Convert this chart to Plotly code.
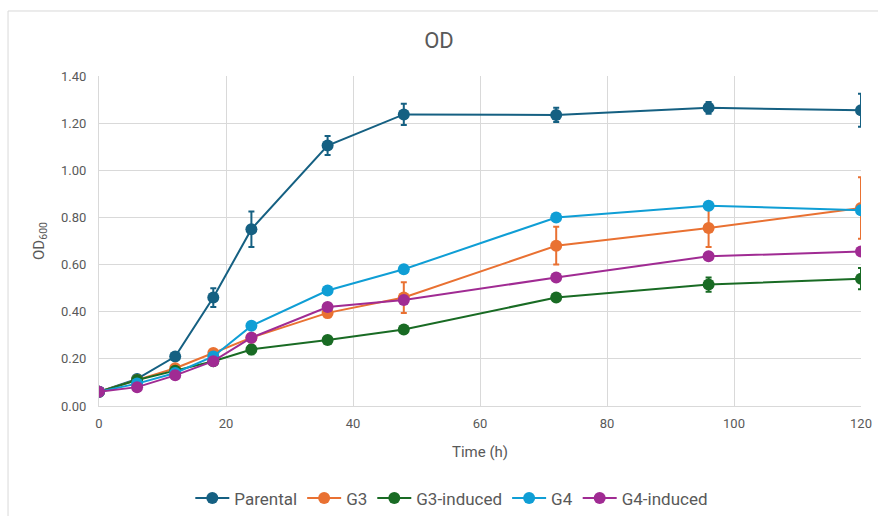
import plotly.graph_objects as go

time_h = [0, 6, 12, 18, 24, 36, 48, 72, 96, 120]

parental = [0.06, 0.115, 0.21, 0.46, 0.75, 1.105, 1.237, 1.235, 1.265, 1.255]
parental_err = [0.005, 0.005, 0.01, 0.04, 0.075, 0.04, 0.045, 0.03, 0.025, 0.07]

g3 = [0.06, 0.11, 0.16, 0.225, 0.29, 0.395, 0.46, 0.68, 0.755, 0.84]
g3_err = [0.005, 0.005, 0.01, 0.01, 0.01, 0.02, 0.065, 0.08, 0.08, 0.13]

g3_induced = [0.06, 0.11, 0.15, 0.19, 0.24, 0.28, 0.325, 0.46, 0.515, 0.54]
g3_induced_err = [0.005, 0.005, 0.005, 0.01, 0.02, 0.01, 0.01, 0.01, 0.03, 0.045]

g4 = [0.06, 0.095, 0.14, 0.21, 0.34, 0.49, 0.58, 0.80, 0.85, 0.83]
g4_err = [0.005, 0.005, 0.005, 0.01, 0.01, 0.01, 0.01, 0.01, 0.01, 0.01]

g4_induced = [0.06, 0.08, 0.13, 0.19, 0.29, 0.42, 0.45, 0.545, 0.635, 0.655]
g4_induced_err = [0.005, 0.005, 0.005, 0.01, 0.01, 0.01, 0.01, 0.01, 0.01, 0.01]

series = [
    ("Parental", parental, parental_err, "#156082"),
    ("G3", g3, g3_err, "#E97132"),
    ("G3-induced", g3_induced, g3_induced_err, "#196B24"),
    ("G4", g4, g4_err, "#0F9ED5"),
    ("G4-induced", g4_induced, g4_induced_err, "#A02B93"),
]

fig = go.Figure()
for name, vals, errs, col in series:
    fig.add_trace(go.Scatter(
        x=time_h, y=vals, name=name, mode="lines+markers",
        line=dict(color=col, width=2),
        marker=dict(color=col, size=12),
        error_y=dict(type="data", array=errs, visible=True, color=col, thickness=2, width=3),
    ))

font_col = "#595959"
fig.update_layout(
    width=878, height=516,
    margin=dict(l=99, r=17, t=76, b=110, autoexpand=False),
    paper_bgcolor="white", plot_bgcolor="white",
    font=dict(family="Roboto, Arial, sans-serif", color=font_col, size=13),
    title=dict(text="OD", x=0.5, xanchor="center", y=0.922, yanchor="middle",
               font=dict(size=22, color=font_col)),
    xaxis=dict(range=[0, 120], dtick=20, tick0=0, showgrid=True, gridcolor="#d9d9d9",
               zeroline=False, showline=True, linecolor="#d9d9d9", linewidth=1,
               ticks="", automargin=False, ticklabelstandoff=5, ticklabeloverflow="allow",
               title=dict(text="Time (h)", font=dict(size=15, color=font_col), standoff=16),
               tickfont=dict(size=13, color=font_col)),
    yaxis=dict(range=[0, 1.4], dtick=0.2, tickformat=".2f", showgrid=True, gridcolor="#d9d9d9",
               zeroline=False, showline=True, linecolor="#d9d9d9", linewidth=1,
               ticks="", automargin=False, ticklabelstandoff=9,
               title=dict(text="OD<sub>600</sub>", font=dict(size=15, color=font_col), standoff=12),
               tickfont=dict(size=13, color=font_col)),
    legend=dict(orientation="h", x=0.463, xanchor="center", y=-0.28, yanchor="middle",
                font=dict(size=17, color=font_col), itemwidth=34, tracegroupgap=0),
    shapes=[dict(type="rect", xref="paper", yref="paper",
                 x0=-0.1194, x1=1.03, y0=-0.36, y1=1.197,
                 line=dict(color="#d9d9d9", width=1), fillcolor="rgba(0,0,0,0)", layer="below")],
)

fig.write_html("out.html", config={"displayModeBar": False},
               post_script="document.body.style.margin='0px';document.body.style.overflow='hidden';")
